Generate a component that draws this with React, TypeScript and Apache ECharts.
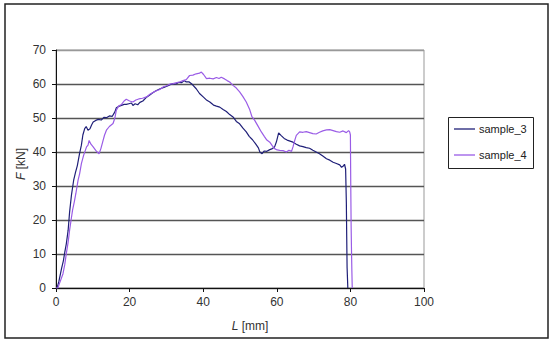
import React, { useEffect, useRef } from "react";
import * as echarts from "echarts";

const seriesNames = ["sample_3", "sample_4"];
const seriesColors = ["#1f1f78", "#9a5ce6"];

const s3X = [0, 0.3, 0.8, 1.5, 2, 2.4, 2.8, 3.3, 3.7, 4.2, 4.8, 5.3, 5.8, 6.4, 6.9, 7.3, 7.8, 8.2, 8.7, 9.2, 9.7, 10.1, 10.8, 11.5, 12.3, 13, 13.7, 14.5, 15.3, 16, 16.4, 17, 17.8, 18.5, 19.1, 19.8, 20.5, 20.9, 21.5, 22.2, 22.8, 23.6, 24.5, 25.3, 26.3, 27.3, 28.3, 29.3, 30.3, 31, 31.8, 32.6, 33.4, 34.2, 34.8, 35.4, 36.2, 37, 38.1, 39, 40, 41, 41.8, 42.8, 43.6, 44.5, 45.4, 46.3, 47.2, 48.1, 49, 49.9, 50.8, 51.7, 52.5, 53.4, 54.3, 55, 55.4, 56, 56.6, 57.3, 58.1, 58.8, 59.4, 59.9, 60.5, 61.2, 62, 62.8, 63.6, 64.4, 65.3, 66.2, 67.1, 68, 68.9, 69.8, 70.7, 71.6, 72.5, 73.5, 74.4, 75.3, 76.2, 77.1, 77.6, 78, 78.4, 78.7, 78.9, 79, 79.1, 79.3];
const s3Y = [0, 0, 2, 5.7, 8, 10.6, 13, 17, 22.4, 27.3, 31.7, 34, 36, 39.5, 42, 45, 46.9, 47.5, 46.4, 46.8, 48, 48.8, 49.3, 49.6, 49.4, 50.2, 50.1, 50.6, 50.5, 51.8, 53, 53.4, 53.7, 54, 54, 54.2, 54.4, 53.7, 54.2, 53.9, 54.6, 55, 56, 56.6, 57.4, 58.1, 58.6, 59, 59.4, 59.8, 60.1, 60, 60.5, 60.4, 61, 60.6, 60.6, 59.9, 58.6, 57.2, 56.2, 55.2, 54.7, 53.8, 53.5, 53.2, 52.5, 51.9, 51, 50.3, 49, 48.3, 47, 45.9, 44.6, 43.6, 42.3, 41.2, 40, 39.5, 40.3, 40.2, 40.7, 41, 41.5, 43, 45.6, 44.8, 44, 43.5, 43.2, 42.9, 42.3, 41.8, 41.6, 41.3, 41.1, 40.5, 40, 39.5, 38.8, 38, 37.6, 37, 36.6, 36.2, 35.5, 35.8, 36.4, 35, 25, 15, 6, 0];

const s4X = [0, 0.5, 1, 1.9, 2.4, 2.8, 3.3, 3.7, 4.1, 4.5, 5, 5.4, 6, 6.4, 6.9, 7.5, 8.3, 8.7, 9, 9.5, 10.1, 10.8, 11.2, 11.7, 12.2, 12.8, 13.2, 13.7, 14.5, 15.5, 16, 16.4, 17, 17.8, 18.5, 19.1, 20, 20.9, 21.7, 22.5, 23.5, 24.6, 25.5, 26.5, 27.3, 28.2, 29.2, 30.1, 31, 31.8, 32.8, 33.6, 34.5, 35.4, 36.3, 37.2, 38.1, 39, 39.5, 40.1, 40.9, 41.8, 42.7, 43.6, 44.3, 44.9, 45.8, 46.5, 47.2, 48.1, 49, 49.9, 50.8, 51.7, 52.6, 53.2, 54, 54.9, 55.8, 56.6, 57.3, 58.1, 58.8, 59.4, 60.1, 60.8, 61.7, 62.6, 63.3, 64, 64.4, 64.9, 65.3, 66.2, 67.1, 68, 68.9, 69.8, 70.7, 71.6, 72.5, 73.5, 74.4, 75.3, 76.2, 77.1, 78, 78.9, 79.5, 79.8, 80, 80.1, 80.2, 80.3, 80.4, 80.5];
const s4Y = [0, 0, 1.5, 4.2, 7, 10.1, 13.5, 17, 20, 22.9, 25.5, 27.8, 31.7, 33.5, 36.6, 39, 41.5, 42, 43.4, 42.3, 41.5, 40.5, 40, 39.5, 41, 43.4, 45, 46.4, 47.5, 48.4, 50, 52.3, 53.5, 54, 55, 55.5, 55, 54.7, 55.3, 55.6, 55.8, 56.2, 57, 57.6, 58, 58.4, 59.2, 59.5, 60, 60.1, 60.4, 60.6, 61, 61.3, 62.5, 62.6, 63, 63.2, 63.5, 62.8, 61.6, 61.7, 61.5, 61.9, 61.6, 62, 61.5, 61, 60.6, 59.6, 58.8, 57.7, 56.3, 54.7, 52.6, 50.5, 49.3, 47.6, 45.9, 44.6, 43.5, 42.9, 41.8, 41, 40.6, 40.5, 40.4, 40, 40.5, 40.2, 41.5, 43.5, 44.9, 45.9, 45.8, 46, 45.7, 45.4, 45.3, 45.8, 46.2, 46.5, 46.6, 46.3, 46, 45.8, 46.2, 45.7, 46.3, 45.9, 45, 30, 18, 11, 5, 0];

const xTicks = { min: 0, max: 100, interval: 20 };
const yTicks = { min: 0, max: 70, interval: 10 };

const zip = (xs: number[], ys: number[]) => xs.map((x, i) => [x, ys[i]]);

export default function App() {
  const ref = useRef<HTMLDivElement>(null);
  useEffect(() => {
    if (!ref.current) return;
    const chart = echarts.init(ref.current, undefined, { renderer: "svg" });
    const font = "Liberation Sans, Arial, sans-serif";
    const gridColors = ["#555", "#555", "#555", "#555", "#555", "#555", "#555", "#999"];
    const legendItems = seriesNames.flatMap((name, i) => {
      const y = 129 + i * 26;
      return [
        {
          type: "line",
          shape: { x1: 454, y1: y, x2: 475, y2: y },
          style: { stroke: seriesColors[i], lineWidth: 1.3 },
          silent: true,
        },
        {
          type: "text",
          x: 479,
          y,
          style: { text: name, textAlign: "left", textVerticalAlign: "middle", fontFamily: font, fontSize: 11, fill: "#222" },
          silent: true,
        },
      ];
    });
    chart.setOption({
      animation: false,
      backgroundColor: "#fff",
      grid: { left: 56, right: 126, top: 50, bottom: 57, show: true, borderColor: "#999", borderWidth: 1, backgroundColor: "transparent" },
      xAxis: {
        type: "value",
        ...xTicks,
        axisLine: { show: true, onZero: false, lineStyle: { color: "#111", width: 1 } },
        axisTick: { show: true, length: 4, lineStyle: { color: "#111" } },
        axisLabel: { fontFamily: font, fontSize: 12, color: "#333", margin: 8 },
        splitLine: { show: false },
      },
      yAxis: {
        type: "value",
        ...yTicks,
        axisLine: { show: true, onZero: false, lineStyle: { color: "#111", width: 1 } },
        axisTick: { show: true, length: 4, lineStyle: { color: "#111" } },
        axisLabel: { fontFamily: font, fontSize: 12, color: "#333", margin: 10 },
        splitLine: { show: true, lineStyle: { color: gridColors, width: 1.4 } },
      },
      graphic: [
        {
          type: "rect",
          shape: { x: 5, y: 4, width: 543, height: 334 },
          style: { fill: "none", stroke: "#222", lineWidth: 1.5 },
          silent: true,
        },
        {
          type: "rect",
          shape: { x: 448.5, y: 117.5, width: 85, height: 51 },
          style: { fill: "#fff", stroke: "#222", lineWidth: 1 },
          silent: true,
        },
        ...legendItems,
        {
          type: "text",
          x: 21,
          y: 164,
          rotation: Math.PI / 2,
          style: {
            text: "{i|F} [kN]",
            textAlign: "center",
            textVerticalAlign: "middle",
            fontFamily: font,
            fontSize: 12,
            fill: "#333",
            rich: { i: { fontStyle: "italic", fontFamily: font, fontSize: 12, fill: "#333" } },
          },
        },
        {
          type: "text",
          x: 250,
          y: 326,
          style: {
            text: "{i|L} [mm]",
            textAlign: "center",
            textVerticalAlign: "middle",
            fontFamily: font,
            fontSize: 12,
            fill: "#333",
            rich: { i: { fontStyle: "italic", fontFamily: font, fontSize: 12, fill: "#333" } },
          },
        },
      ],
      series: [
        {
          name: seriesNames[0],
          type: "line",
          symbol: "none",
          data: zip(s3X, s3Y),
          lineStyle: { color: seriesColors[0], width: 1.2 },
          itemStyle: { color: seriesColors[0] },
        },
        {
          name: seriesNames[1],
          type: "line",
          symbol: "none",
          data: zip(s4X, s4Y),
          lineStyle: { color: seriesColors[1], width: 1.2 },
          itemStyle: { color: seriesColors[1] },
        },
      ],
    });
    return () => chart.dispose();
  }, []);
  return <div ref={ref} style={{ width: 550, height: 345, position: "absolute", left: 0, top: 0 }} />;
}
